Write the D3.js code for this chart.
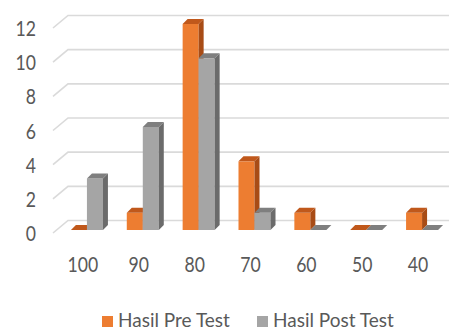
<!DOCTYPE html>
<html>
<head>
<meta charset="utf-8">
<script src="https://cdn.jsdelivr.net/npm/d3@7"></script>
<style>
  html, body { margin: 0; padding: 0; background: #fff; }
  svg { display: block; }
</style>
</head>
<body>
<svg id="chart" width="449" height="331"></svg>
<script>
const categories = ['100', '90', '80', '70', '60', '50', '40']
const preTest = [0, 1, 12, 4, 1, 0, 1]
const postTest = [3, 6, 10, 1, 0, 0, 0]
const seriesNames = ['Hasil Pre Test', 'Hasil Post Test']
const yTicks = [0, 2, 4, 6, 8, 10, 12]

const colors = {
  pre: { front: '#ED7D31', top: '#C0581B', side: '#A84C16' },
  post: { front: '#A5A5A5', top: '#7F7F7F', side: '#6B6B6B' }
}

const svg = d3.select('#chart')
const width = 449

// fake 3d: front plane + back wall offset
const wall = { dx: 15, dy: -12.5 }
const depth = 5

const yFront = d3.scaleLinear().domain([0, 12]).range([233, 28])
const yBar = d3.scaleLinear().domain([0, 12]).range([230, 24])

const x = d3.scaleBand()
  .domain(categories)
  .range([59, 450])
  .paddingInner(0.427)
  .paddingOuter(0.2135)

const xSub = d3.scaleBand().domain(['pre', 'post']).range([0, x.bandwidth()])

// no calibri here, so squeeze lato a bit
const font = "Lato, 'Liberation Sans', sans-serif"
const squeeze = 0.84

// gridlines
const frontX = 53
const grid = svg.append('g')
yTicks.forEach(v => {
  const y0 = yFront(v)
  grid.append('path')
    .attr('d', `M${frontX},${y0}L${frontX + wall.dx},${y0 + wall.dy}L${width},${y0 + wall.dy}`)
    .attr('fill', 'none')
    .attr('stroke', '#dadada')
    .attr('stroke-width', 1.6)
})

// y labels
svg.append('g').selectAll('text')
  .data(yTicks)
  .join('text')
  .attr('transform', d => `translate(36,${yFront(d) + 8}) scale(${squeeze},1)`)
  .attr('text-anchor', 'end')
  .attr('font-family', font)
  .attr('font-size', 21)
  .attr('fill', '#595959')
  .text(d => d)

// category labels
svg.append('g').selectAll('text')
  .data(categories)
  .join('text')
  .attr('transform', d => `translate(${x(d) + x.bandwidth() / 2 - 4},272) scale(${squeeze},1)`)
  .attr('text-anchor', 'middle')
  .attr('font-family', font)
  .attr('font-size', 21)
  .attr('fill', '#595959')
  .text(d => d)

function drawBar(g, x0, w, v, c) {
  const x1 = x0 + w
  const yt = yBar(v)
  const yb = yBar(0)
  if (v > 0) {
    g.append('rect')
      .attr('x', x0).attr('y', yt)
      .attr('width', w).attr('height', yb - yt)
      .attr('fill', c.front)
    g.append('path')
      .attr('d', `M${x1},${yt}L${x1 + depth},${yt - depth}L${x1 + depth},${yb - depth}L${x1},${yb}Z`)
      .attr('fill', c.side)
  }
  g.append('path')
    .attr('d', `M${x0},${yt}L${x0 + depth},${yt - depth}L${x1 + depth},${yt - depth}L${x1},${yt}Z`)
    .attr('fill', c.top)
}

const bars = svg.append('g')
categories.forEach((cat, i) => {
  const g = bars.append('g')
  drawBar(g, x(cat) + xSub('pre'), xSub.bandwidth(), preTest[i], colors.pre)
  drawBar(g, x(cat) + xSub('post'), xSub.bandwidth(), postTest[i], colors.post)
})

// legend
const legendItems = [
  { name: seriesNames[0], color: colors.pre.front, x: 102 },
  { name: seriesNames[1], color: colors.post.front, x: 257 }
]
const legend = svg.append('g')
legendItems.forEach(d => {
  legend.append('rect')
    .attr('x', d.x).attr('y', 316)
    .attr('width', 11).attr('height', 11)
    .attr('fill', d.color)
  legend.append('text')
    .attr('x', d.x + 16)
    .attr('y', 327)
    .attr('font-family', font)
    .attr('font-size', 19)
    .attr('fill', '#595959')
    .text(d.name)
})
</script>
</body>
</html>
